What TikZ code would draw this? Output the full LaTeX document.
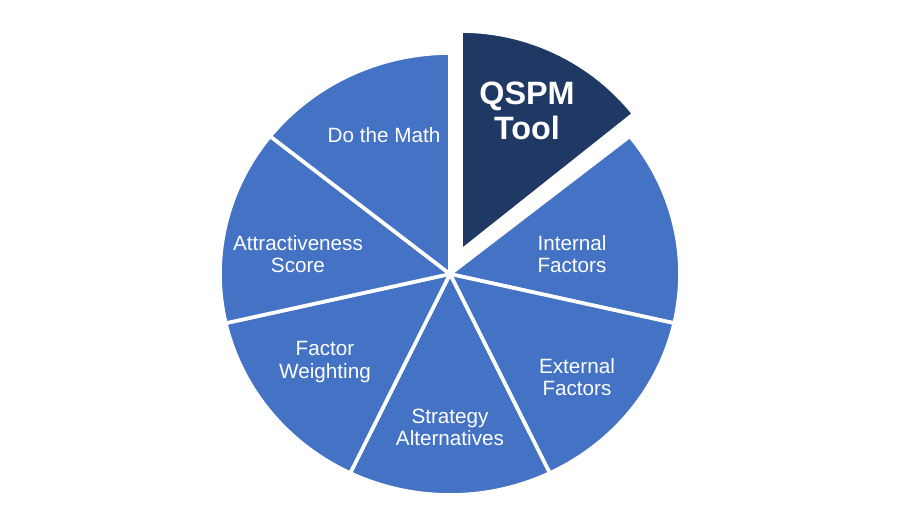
\documentclass[tikz,border=0pt]{standalone}
\usepackage{fontspec}
\setmainfont{Liberation Sans}
\definecolor{sliceblue}{HTML}{4472C4}
\definecolor{toolnavy}{HTML}{203864}
\tikzset{
  slice/.style={fill=sliceblue, draw=white, line width=2.6pt, line join=round},
  slicetext/.style={text=white, align=center, font=\fontsize{14.7}{15.8}\selectfont},
  tooltext/.style={text=white, align=center, font=\fontsize{23}{25}\selectfont\bfseries}
}
\begin{document}
\begin{tikzpicture}[x=0.025cm, y=0.025cm]
    \useasboundingbox (-450,-253) rectangle (452,274);
    % Centre of the pie
    \coordinate (O) at (0,0);
    % Tip of the exploded slice
    \coordinate (T) at (11,23);

    % Exploded slice
    \draw[slice, fill=toolnavy] (T) -- ++(90:221 and 220)
        arc[start angle=90, end angle=38.57, x radius=221, y radius=220] -- cycle;
    % Remaining slices, clockwise
    \draw[slice] (O) -- (38.57:230 and 221)
        arc[start angle=38.57, end angle=-12.86, x radius=230, y radius=221] -- cycle;
    \draw[slice] (O) -- (-12.86:230 and 221)
        arc[start angle=-12.86, end angle=-64.29, x radius=230, y radius=221] -- cycle;
    \draw[slice] (O) -- (-64.29:230 and 221)
        arc[start angle=-64.29, end angle=-115.71, x radius=230, y radius=221] -- cycle;
    \draw[slice] (O) -- (-115.71:230 and 221)
        arc[start angle=-115.71, end angle=-167.14, x radius=230, y radius=221] -- cycle;
    \draw[slice] (O) -- (192.86:230 and 221)
        arc[start angle=192.86, end angle=141.43, x radius=230, y radius=221] -- cycle;
    \draw[slice] (O) -- (141.43:230 and 221)
        arc[start angle=141.43, end angle=90, x radius=230, y radius=221] -- cycle;

    % Labels
    \node[tooltext] (tool) at (77,163) {QSPM\\Tool};
    \node[slicetext] (internal) at (122,20) {Internal\\Factors};
    \node[slicetext] (external) at (127,-103) {External\\Factors};
    \node[slicetext] (strategy) at (0,-153) {Strategy\\Alternatives};
    \node[slicetext] (weighting) at (-125,-88) {Factor\\Weighting};
    \node[slicetext] (score) at (-152,20) {Attractiveness\\Score};
    \node[slicetext] (math) at (-66,139) {Do the Math};
\end{tikzpicture}
\end{document}
